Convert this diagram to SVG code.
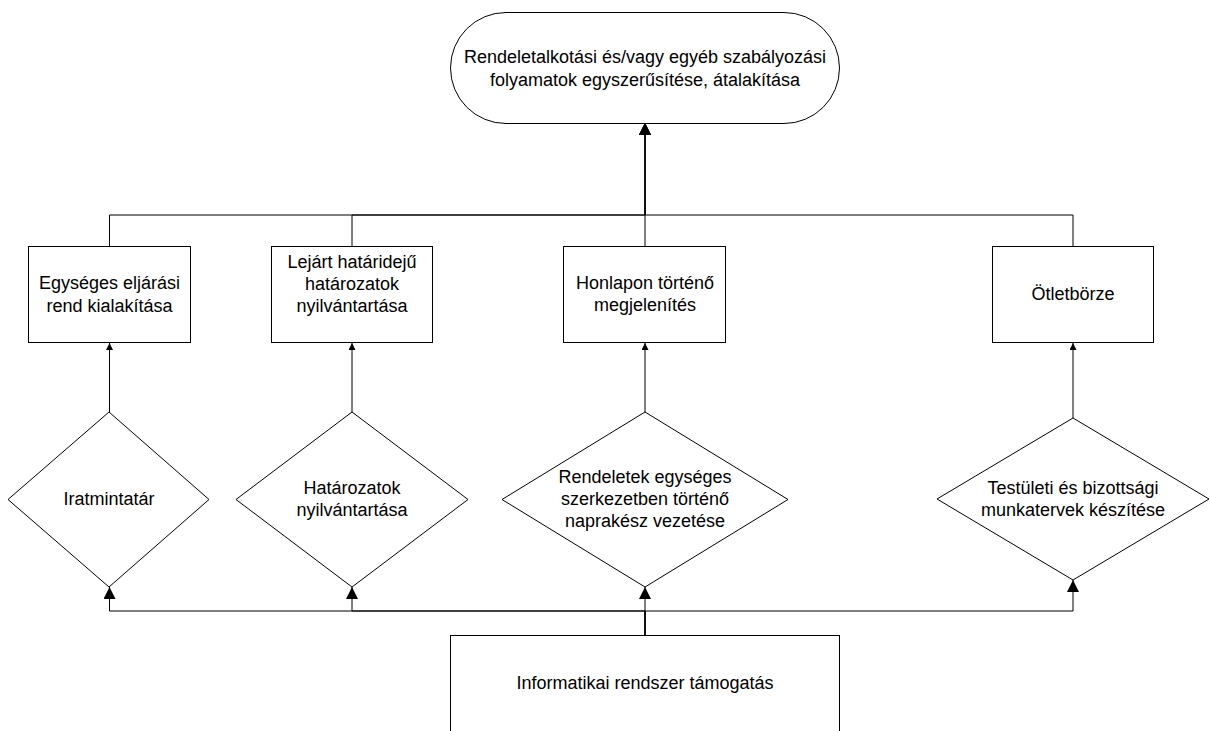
<svg xmlns="http://www.w3.org/2000/svg" width="1210" height="731" viewBox="0 0 1210 731">
  <style>
    .shape { fill: #ffffff; stroke: #000000; stroke-width: 1; }
    .conn { fill: none; stroke: #000000; stroke-width: 1; }
    .label { font-family: "Liberation Sans", Arial, sans-serif; font-size: 18px; fill: #000000; text-anchor: middle; }
  </style>
  <defs>
    <marker id="arrowBig" markerUnits="userSpaceOnUse" markerWidth="12" markerHeight="12" viewBox="0 0 12 12" refX="12" refY="6" orient="auto">
      <path d="M0,0 L12,6 L0,12 Z" fill="#000000"/>
    </marker>
    <marker id="arrowSmall" markerUnits="userSpaceOnUse" markerWidth="7" markerHeight="7" viewBox="0 0 7 7" refX="7" refY="3.5" orient="auto">
      <path d="M0,0 L7,3.5 L0,7 Z" fill="#000000"/>
    </marker>
  </defs>

  <!-- connectors -->
  <g id="connectors">
    <!-- measures up to the goal -->
    <polyline class="conn" points="109.5,246 109.5,215 645,215 645,123" marker-end="url(#arrowBig)"/>
    <polyline class="conn" points="352,246 352,215 645,215 645,123" marker-end="url(#arrowBig)"/>
    <polyline class="conn" points="645,246 645,123" marker-end="url(#arrowBig)"/>
    <polyline class="conn" points="1073,246 1073,215 645,215 645,123" marker-end="url(#arrowBig)"/>
    <!-- tools up to measures -->
    <line class="conn" x1="109.5" y1="412" x2="109.5" y2="343" marker-end="url(#arrowSmall)"/>
    <line class="conn" x1="352" y1="412" x2="352" y2="343" marker-end="url(#arrowSmall)"/>
    <line class="conn" x1="645" y1="412" x2="645" y2="343" marker-end="url(#arrowSmall)"/>
    <line class="conn" x1="1073" y1="418" x2="1073" y2="343" marker-end="url(#arrowSmall)"/>
    <!-- IT support up to tools -->
    <polyline class="conn" points="645,635 645,611 109.5,611 109.5,587" marker-end="url(#arrowBig)"/>
    <polyline class="conn" points="645,635 645,611 352,611 352,587" marker-end="url(#arrowBig)"/>
    <polyline class="conn" points="645,635 645,587" marker-end="url(#arrowBig)"/>
    <polyline class="conn" points="645,635 645,611 1073,611 1073,580" marker-end="url(#arrowBig)"/>
  </g>

  <!-- goal -->
  <g id="goal">
    <rect class="shape" x="450.5" y="12.5" width="389" height="111" rx="55.5" ry="55.5"/>
    <text class="label" x="645" y="63">Rendeletalkotási és/vagy egyéb szabályozási</text>
    <text class="label" x="645" y="86">folyamatok egyszerűsítése, átalakítása</text>
  </g>

  <!-- measures -->
  <g id="measure-eljarasi-rend">
    <rect class="shape" x="28.5" y="246.5" width="162" height="96"/>
    <text class="label" x="109.5" y="289">Egységes eljárási</text>
    <text class="label" x="109.5" y="312">rend kialakítása</text>
  </g>
  <g id="measure-lejart-hatarozatok">
    <rect class="shape" x="271.5" y="246.5" width="161" height="96"/>
    <text class="label" x="352" y="268">Lejárt határidejű</text>
    <text class="label" x="352" y="290">határozatok</text>
    <text class="label" x="352" y="312">nyilvántartása</text>
  </g>
  <g id="measure-honlap">
    <rect class="shape" x="563.5" y="246.5" width="162" height="96"/>
    <text class="label" x="645" y="289">Honlapon történő</text>
    <text class="label" x="645" y="311">megjelenítés</text>
  </g>
  <g id="measure-otletborze">
    <rect class="shape" x="992.5" y="246.5" width="161" height="96"/>
    <text class="label" x="1073" y="300">Ötletbörze</text>
  </g>

  <!-- tools -->
  <g id="tool-iratmintatar">
    <polygon class="shape" points="109,412 209,499.5 109,587 8,499.5"/>
    <text class="label" x="109" y="505">Iratmintatár</text>
  </g>
  <g id="tool-hatarozatok">
    <polygon class="shape" points="352,412 468,499.5 352,587 236,499.5"/>
    <text class="label" x="352" y="494">Határozatok</text>
    <text class="label" x="352" y="516">nyilvántartása</text>
  </g>
  <g id="tool-rendeletek">
    <polygon class="shape" points="645,412 788,499.5 645,587 502,499.5"/>
    <text class="label" x="645" y="483">Rendeletek egységes</text>
    <text class="label" x="645" y="505">szerkezetben történő</text>
    <text class="label" x="645" y="527">naprakész vezetése</text>
  </g>
  <g id="tool-munkatervek">
    <polygon class="shape" points="1073,418 1209,499 1073,580 937,499"/>
    <text class="label" x="1073" y="494">Testületi és bizottsági</text>
    <text class="label" x="1073" y="516">munkatervek készítése</text>
  </g>

  <!-- IT support -->
  <g id="it-support">
    <rect class="shape" x="450.5" y="635.5" width="389" height="110"/>
    <text class="label" x="645" y="689">Informatikai rendszer támogatás</text>
  </g>
</svg>
